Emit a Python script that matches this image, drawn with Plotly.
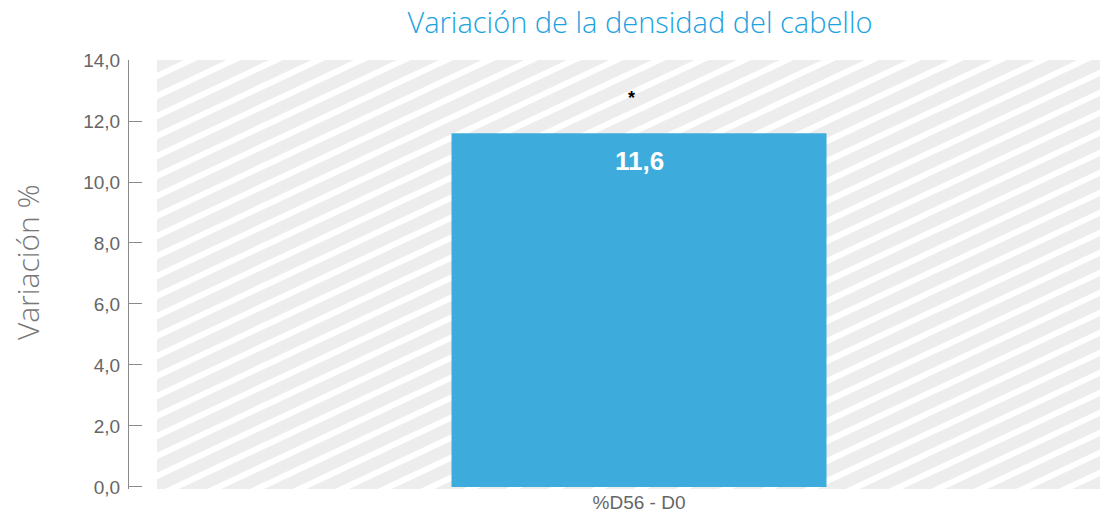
import plotly.graph_objects as go

# data
categories = ['%D56 - D0']
variation = [11.6]
signif = ['*']
signif_y = [12.75]

title_txt = 'Variación de la densidad del cabello'
y_title = 'Variación %'
y_ticks = [0, 2, 4, 6, 8, 10, 12, 14]

# page has an 8px body margin, so the figure is a bit smaller than the window
W, H = 1100, 515
x_range = [-0.5, 0.4865]
y_range = [-0.066, 14.0]

fig = go.Figure()

fig.add_trace(go.Bar(
    x=[0], y=variation,
    width=0.389,
    marker=dict(color='#3dacdc', line=dict(width=0)),
    hoverinfo='skip',
))

# value label inside the bar, near the top
for v in variation:
    fig.add_annotation(x=0, y=v, text='<b>' + f'{v:.1f}'.replace('.', ',') + '</b>',
                       showarrow=False, yanchor='top', yshift=-11,
                       font=dict(family='Liberation Sans', size=26, color='white'))

# significance marker
fig.add_annotation(x=0, y=signif_y[0], text='<b>' + signif[0] + '</b>', showarrow=False,
                   xshift=-8, font=dict(family='Liberation Sans', size=18, color='black'))

# y title
fig.add_annotation(xref='paper', yref='paper', x=-0.103, y=0.529, text=y_title,
                   textangle=-90, showarrow=False, xanchor='center', yanchor='middle',
                   font=dict(family='Open Sans', size=30, color='#777777', weight=300))

# hatched background : grey rect + white diagonal stripes
fig.add_shape(type='rect', xref='x', yref='y', x0=-0.5, x1=0.6, y0=-1, y1=15,
              fillcolor='#ededed', line=dict(width=0), layer='below')
px_x = 964.0
px_y = 30.5
slope = 0.47 * px_x / px_y
period = 20.0 / px_y
span = x_range[1] - x_range[0]
c = y_range[0] - slope * span - period
while c < y_range[1] + period:
    fig.add_shape(type='line', xref='x', yref='y',
                  x0=x_range[0] - 0.01, x1=x_range[1] + 0.01,
                  y0=c - slope * 0.01, y1=c + slope * (span + 0.01),
                  line=dict(color='white', width=6), layer='below')
    c += period

fig.update_layout(
    width=W, height=H,
    separators=', ',
    paper_bgcolor='white',
    plot_bgcolor='white',
    margin=dict(l=120, r=0, t=52, b=34),
    showlegend=False,
    title=dict(text=title_txt, xref='container', x=632 / W, xanchor='center',
               y=1 - 15 / H, yanchor='middle',
               font=dict(family='Open Sans', size=29, color='#1ba2df', weight=300)),
    xaxis=dict(domain=[29 / 980, 1], range=x_range, showgrid=False, zeroline=False,
               showline=False, ticks='', tickmode='array', tickvals=[0],
               ticktext=categories,
               tickfont=dict(family='Liberation Sans', size=19, color='#666666')),
    yaxis=dict(anchor='free', position=0, range=y_range, showgrid=False, zeroline=False,
               showline=True, linecolor='#8a8a8a', linewidth=1,
               ticks='inside', ticklen=13, tickcolor='#8a8a8a', tickwidth=1,
               tickvals=y_ticks, tickformat='.1f', ticklabelstandoff=4,
               tickfont=dict(family='Liberation Sans', size=19, color='#666666')),
)

fig.write_html('out.html')
